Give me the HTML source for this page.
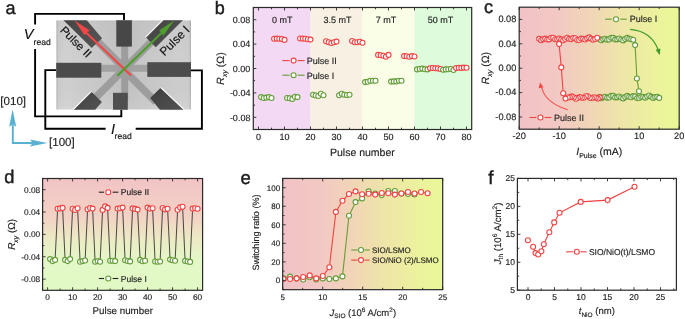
<!DOCTYPE html><html><head><meta charset="utf-8"><style>html,body{margin:0;padding:0;background:#fff;overflow:hidden}svg{display:block;will-change:transform}text{font-family:"Liberation Sans",sans-serif;text-rendering:geometricPrecision;stroke:#222;stroke-width:0.15px;paint-order:stroke}</style></head><body>
<svg width="685" height="319" viewBox="0 0 685 319">
<defs>
<linearGradient id="gc" x1="0" y1="0" x2="1" y2="0">
<stop offset="0" stop-color="#f1c2c6"/><stop offset="0.25" stop-color="#f3c9c3"/><stop offset="0.45" stop-color="#f1d6b6"/><stop offset="0.65" stop-color="#eee6a7"/><stop offset="0.85" stop-color="#ecf29d"/><stop offset="1" stop-color="#eaf898"/></linearGradient>
<linearGradient id="ge" x1="0" y1="0" x2="1" y2="0">
<stop offset="0" stop-color="#f1c2c6"/><stop offset="0.25" stop-color="#f3c9c3"/><stop offset="0.45" stop-color="#f1d6b6"/><stop offset="0.65" stop-color="#eee6a7"/><stop offset="0.85" stop-color="#ecf29d"/><stop offset="1" stop-color="#eaf898"/></linearGradient>
<linearGradient id="gd" x1="0" y1="0" x2="0" y2="1">
<stop offset="0" stop-color="#f2c3c6"/><stop offset="0.35" stop-color="#f2d3c4"/><stop offset="0.55" stop-color="#ecebc5"/><stop offset="0.75" stop-color="#e3f8c6"/><stop offset="1" stop-color="#e1f9c5"/></linearGradient>
<radialGradient id="gm" cx="0.5" cy="0.5" r="0.7">
<stop offset="0" stop-color="#b9b9b9"/><stop offset="0.6" stop-color="#c4c4c4"/><stop offset="1" stop-color="#dedede"/></radialGradient>
<linearGradient id="gmh" x1="0" y1="0" x2="1" y2="0"><stop offset="0" stop-color="#b4b4b4"/><stop offset="0.018" stop-color="#cdcdcd"/><stop offset="0.07" stop-color="#d2d2d2"/><stop offset="0.5" stop-color="#c4c4c4"/><stop offset="0.93" stop-color="#d0d0d0"/><stop offset="0.985" stop-color="#cecece"/><stop offset="1" stop-color="#b0b0b0"/></linearGradient>
<linearGradient id="gmv" x1="0" y1="0" x2="0" y2="1"><stop offset="0" stop-color="#000" stop-opacity="0.03"/><stop offset="0.5" stop-color="#000" stop-opacity="0"/><stop offset="1" stop-color="#fff" stop-opacity="0.08"/></linearGradient>
<linearGradient id="gp" x1="0" y1="0" x2="1" y2="1"><stop offset="0" stop-color="#3e3e3e"/><stop offset="1" stop-color="#565656"/></linearGradient>
<clipPath id="cm"><rect x="56.2" y="20.2" width="134.8" height="89.5"/></clipPath>
<clipPath id="cb"><rect x="253.3" y="7.5" width="218.4" height="122"/></clipPath>
<clipPath id="cc"><rect x="519.2" y="7.2" width="160" height="122"/></clipPath>
<clipPath id="ce"><rect x="282.7" y="178.5" width="160" height="111.6"/></clipPath>
</defs>
<text x="5.5" y="13.6" font-size="18" text-anchor="start" fill="#1e1e1e" style="stroke-width:0.45px">a</text>
<text x="214.8" y="13.8" font-size="18" text-anchor="start" fill="#1e1e1e" style="stroke-width:0.45px">b</text>
<text x="484.1" y="12.9" font-size="18.3" text-anchor="start" fill="#1e1e1e" style="stroke-width:0.45px">c</text>
<text x="4.2" y="182.6" font-size="18.3" text-anchor="start" fill="#1e1e1e" style="stroke-width:0.45px">d</text>
<text x="240.4" y="183.6" font-size="18.5" text-anchor="start" fill="#1e1e1e" style="stroke-width:0.45px">e</text>
<text x="488.2" y="183.8" font-size="18.8" text-anchor="start" fill="#1e1e1e" style="stroke-width:0.45px">f</text>
<path d="M35.1 24.4 V13.9 H124 V20.2" stroke="#000" stroke-width="1.9" fill="none"/>
<path d="M35.1 49.1 V116.4 H121.3 V109.7" stroke="#000" stroke-width="1.9" fill="none"/>
<path d="M56.2 70.1 H45.3 V128.8 H105.6" stroke="#000" stroke-width="1.9" fill="none"/>
<path d="M135.7 128.8 H201.9 V70.4 H191" stroke="#000" stroke-width="1.9" fill="none"/>
<g clip-path="url(#cm)">
<rect x="56.2" y="20.2" width="134.8" height="89.5" fill="url(#gmh)"/>
<rect x="56.2" y="20.2" width="134.8" height="89.5" fill="url(#gmv)"/>
<rect x="121.2" y="40" width="7" height="60" fill="#9d9d9d"/>
<rect x="95" y="64.8" width="58" height="7" fill="#a2a2a2"/>
<line x1="124.6" y1="68.6" x2="92.8" y2="36.8" stroke="#9d9d9d" stroke-width="7.6"/>
<line x1="124.6" y1="68.6" x2="155" y2="38.2" stroke="#9d9d9d" stroke-width="7.6"/>
<line x1="124.6" y1="68.6" x2="94" y2="99.2" stroke="#9d9d9d" stroke-width="7.6"/>
<line x1="120" y1="66.1" x2="156" y2="102.1" stroke="#9d9d9d" stroke-width="7.6"/>
<polygon points="50,7 75.4,7 102.1,38.2 91.7,48" fill="url(#gp)"/>
<polygon points="146.1,37.6 155.8,47.3 195.8,7.3 186.1,-2.4" fill="url(#gp)"/>
<line x1="145.6" y1="37.1" x2="185.6" y2="-2.9" stroke="#fafafa" stroke-width="1.1" opacity="0.9"/>
<polygon points="91.7,91.9 101.9,102.1 90.6,115 68.6,115" fill="url(#gp)"/>
<line x1="91.2" y1="91.4" x2="68.1" y2="114.5" stroke="#fafafa" stroke-width="1.1" opacity="0.9"/>
<polygon points="160.4,88 150.2,98 164.1,115 188.9,115" fill="url(#gp)"/>
<line x1="160.9" y1="87.5" x2="189.4" y2="114.5" stroke="#fafafa" stroke-width="1.1" opacity="0.9"/>
<rect x="116.3" y="18" width="15.6" height="28.6" fill="#474747"/>
<rect x="50" y="62.8" width="51.3" height="14.9" fill="#4b4b4b"/>
<rect x="147.3" y="62.2" width="50" height="14.7" fill="#4d4d4d"/>
<rect x="113" y="92.8" width="14.8" height="20" fill="#4f4f4f"/>
<line x1="131.1" y1="75.5" x2="86" y2="32.4" stroke="#f24646" stroke-width="2.1"/>
<polygon points="74.6,20.6 84.5,35.3 86.6,32.7 89.8,30.4" fill="#f24646"/>
<line x1="117.4" y1="75.7" x2="162" y2="32.5" stroke="#4d9e2a" stroke-width="2.1"/>
<polygon points="174.2,20.6 159.1,30.4 161.8,32.7 163.3,35.7" fill="#4d9e2a"/>
<text x="0" y="0" font-size="11.6" fill="#111" transform="translate(59.4,30.9) rotate(45)">Pulse II</text>
<text x="0" y="0" font-size="12" fill="#111" transform="translate(164.4,56.6) rotate(-45)">Pulse I</text>
</g>
<text x="23.7" y="38.9" font-size="14.5" font-style="italic" fill="#111">V</text>
<text x="33.6" y="44.6" font-size="8.6" fill="#111">read</text>
<text x="111" y="134.4" font-size="14.5" font-style="italic" fill="#111">I</text>
<text x="114.6" y="139.2" font-size="8.6" fill="#111">read</text>
<path d="M12.8 125 V143 H34" stroke="#5ab0d0" stroke-width="1.9" fill="none"/>
<polygon points="12.6,109.2 16.2,126.8 12.7,124.4 9.2,126.8" fill="#5ab0d0"/>
<polygon points="47.4,143 30,139.6 32.6,143 30,146.4" fill="#5ab0d0"/>
<text x="0.3" y="105" font-size="11.6" text-anchor="start" fill="#1e1e1e" >[010]</text>
<text x="49" y="146.3" font-size="11.6" text-anchor="start" fill="#1e1e1e" >[100]</text>
<rect x="253.3" y="7.5" width="57.2" height="122" fill="#f3d9f3"/>
<rect x="310.5" y="7.5" width="52" height="122" fill="#f8f0e2"/>
<rect x="362.5" y="7.5" width="52" height="122" fill="#fafee7"/>
<rect x="414.5" y="7.5" width="57.2" height="122" fill="#defcdc"/>
<text x="282.29" y="22.6" font-size="9" text-anchor="middle" fill="#1e1e1e" >0 mT</text>
<text x="337.54" y="22.6" font-size="9" text-anchor="middle" fill="#1e1e1e" >3.5 mT</text>
<text x="385.9" y="22.6" font-size="9" text-anchor="middle" fill="#1e1e1e" >7 mT</text>
<text x="440.5" y="22.6" font-size="9" text-anchor="middle" fill="#1e1e1e" >50 mT</text>
<g clip-path="url(#cb)">
<circle cx="261.1" cy="97.1" r="2.5" fill="#fff" stroke="#649d38" stroke-width="1.1"/>
<circle cx="263.7" cy="98" r="2.5" fill="#fff" stroke="#649d38" stroke-width="1.1"/>
<circle cx="266.3" cy="97.6" r="2.5" fill="#fff" stroke="#649d38" stroke-width="1.1"/>
<circle cx="268.9" cy="97.1" r="2.5" fill="#fff" stroke="#649d38" stroke-width="1.1"/>
<circle cx="271.5" cy="98" r="2.5" fill="#fff" stroke="#649d38" stroke-width="1.1"/>
<circle cx="274.1" cy="38.8" r="2.5" fill="#fff" stroke="#f14343" stroke-width="1.1"/>
<circle cx="276.7" cy="38.6" r="2.5" fill="#fff" stroke="#f14343" stroke-width="1.1"/>
<circle cx="279.3" cy="38.8" r="2.5" fill="#fff" stroke="#f14343" stroke-width="1.1"/>
<circle cx="281.9" cy="39" r="2.5" fill="#fff" stroke="#f14343" stroke-width="1.1"/>
<circle cx="284.5" cy="39.9" r="2.5" fill="#fff" stroke="#f14343" stroke-width="1.1"/>
<circle cx="287.1" cy="98" r="2.5" fill="#fff" stroke="#649d38" stroke-width="1.1"/>
<circle cx="289.7" cy="98.2" r="2.5" fill="#fff" stroke="#649d38" stroke-width="1.1"/>
<circle cx="292.3" cy="98.9" r="2.5" fill="#fff" stroke="#649d38" stroke-width="1.1"/>
<circle cx="294.9" cy="96.7" r="2.5" fill="#fff" stroke="#649d38" stroke-width="1.1"/>
<circle cx="297.5" cy="97.1" r="2.5" fill="#fff" stroke="#649d38" stroke-width="1.1"/>
<circle cx="300.1" cy="38.5" r="2.5" fill="#fff" stroke="#f14343" stroke-width="1.1"/>
<circle cx="302.7" cy="38.6" r="2.5" fill="#fff" stroke="#f14343" stroke-width="1.1"/>
<circle cx="305.3" cy="38.8" r="2.5" fill="#fff" stroke="#f14343" stroke-width="1.1"/>
<circle cx="307.9" cy="39.2" r="2.5" fill="#fff" stroke="#f14343" stroke-width="1.1"/>
<circle cx="310.5" cy="39.6" r="2.5" fill="#fff" stroke="#f14343" stroke-width="1.1"/>
<circle cx="313.1" cy="94.8" r="2.5" fill="#fff" stroke="#649d38" stroke-width="1.1"/>
<circle cx="315.7" cy="95.5" r="2.5" fill="#fff" stroke="#649d38" stroke-width="1.1"/>
<circle cx="318.3" cy="96" r="2.5" fill="#fff" stroke="#649d38" stroke-width="1.1"/>
<circle cx="320.9" cy="93.8" r="2.5" fill="#fff" stroke="#649d38" stroke-width="1.1"/>
<circle cx="323.5" cy="95.3" r="2.5" fill="#fff" stroke="#649d38" stroke-width="1.1"/>
<circle cx="326.1" cy="41.2" r="2.5" fill="#fff" stroke="#f14343" stroke-width="1.1"/>
<circle cx="328.7" cy="42.3" r="2.5" fill="#fff" stroke="#f14343" stroke-width="1.1"/>
<circle cx="331.3" cy="43" r="2.5" fill="#fff" stroke="#f14343" stroke-width="1.1"/>
<circle cx="333.9" cy="42.3" r="2.5" fill="#fff" stroke="#f14343" stroke-width="1.1"/>
<circle cx="336.5" cy="41.6" r="2.5" fill="#fff" stroke="#f14343" stroke-width="1.1"/>
<circle cx="339.1" cy="95.3" r="2.5" fill="#fff" stroke="#649d38" stroke-width="1.1"/>
<circle cx="341.7" cy="93.8" r="2.5" fill="#fff" stroke="#649d38" stroke-width="1.1"/>
<circle cx="344.3" cy="94.8" r="2.5" fill="#fff" stroke="#649d38" stroke-width="1.1"/>
<circle cx="346.9" cy="95" r="2.5" fill="#fff" stroke="#649d38" stroke-width="1.1"/>
<circle cx="349.5" cy="94.8" r="2.5" fill="#fff" stroke="#649d38" stroke-width="1.1"/>
<circle cx="352.1" cy="41" r="2.5" fill="#fff" stroke="#f14343" stroke-width="1.1"/>
<circle cx="354.7" cy="42.3" r="2.5" fill="#fff" stroke="#f14343" stroke-width="1.1"/>
<circle cx="357.3" cy="42.3" r="2.5" fill="#fff" stroke="#f14343" stroke-width="1.1"/>
<circle cx="359.9" cy="41.8" r="2.5" fill="#fff" stroke="#f14343" stroke-width="1.1"/>
<circle cx="362.5" cy="42.7" r="2.5" fill="#fff" stroke="#f14343" stroke-width="1.1"/>
<circle cx="365.1" cy="82.1" r="2.5" fill="#fff" stroke="#649d38" stroke-width="1.1"/>
<circle cx="367.7" cy="81.8" r="2.5" fill="#fff" stroke="#649d38" stroke-width="1.1"/>
<circle cx="370.3" cy="80.8" r="2.5" fill="#fff" stroke="#649d38" stroke-width="1.1"/>
<circle cx="372.9" cy="80.8" r="2.5" fill="#fff" stroke="#649d38" stroke-width="1.1"/>
<circle cx="375.5" cy="80.8" r="2.5" fill="#fff" stroke="#649d38" stroke-width="1.1"/>
<circle cx="378.1" cy="54.9" r="2.5" fill="#fff" stroke="#f14343" stroke-width="1.1"/>
<circle cx="380.7" cy="55.3" r="2.5" fill="#fff" stroke="#f14343" stroke-width="1.1"/>
<circle cx="383.3" cy="55.8" r="2.5" fill="#fff" stroke="#f14343" stroke-width="1.1"/>
<circle cx="385.9" cy="56.8" r="2.5" fill="#fff" stroke="#f14343" stroke-width="1.1"/>
<circle cx="388.5" cy="54.9" r="2.5" fill="#fff" stroke="#f14343" stroke-width="1.1"/>
<circle cx="391.1" cy="81.6" r="2.5" fill="#fff" stroke="#649d38" stroke-width="1.1"/>
<circle cx="393.7" cy="81.4" r="2.5" fill="#fff" stroke="#649d38" stroke-width="1.1"/>
<circle cx="396.3" cy="81.4" r="2.5" fill="#fff" stroke="#649d38" stroke-width="1.1"/>
<circle cx="398.9" cy="80.8" r="2.5" fill="#fff" stroke="#649d38" stroke-width="1.1"/>
<circle cx="401.5" cy="80.8" r="2.5" fill="#fff" stroke="#649d38" stroke-width="1.1"/>
<circle cx="404.1" cy="56.1" r="2.5" fill="#fff" stroke="#f14343" stroke-width="1.1"/>
<circle cx="406.7" cy="56.3" r="2.5" fill="#fff" stroke="#f14343" stroke-width="1.1"/>
<circle cx="409.3" cy="56.8" r="2.5" fill="#fff" stroke="#f14343" stroke-width="1.1"/>
<circle cx="411.9" cy="56.1" r="2.5" fill="#fff" stroke="#f14343" stroke-width="1.1"/>
<circle cx="414.5" cy="56.5" r="2.5" fill="#fff" stroke="#f14343" stroke-width="1.1"/>
<circle cx="417.1" cy="69.4" r="2.5" fill="#fff" stroke="#649d38" stroke-width="1.1"/>
<circle cx="419.7" cy="69" r="2.5" fill="#fff" stroke="#649d38" stroke-width="1.1"/>
<circle cx="422.3" cy="68.6" r="2.5" fill="#fff" stroke="#649d38" stroke-width="1.1"/>
<circle cx="424.9" cy="69.2" r="2.5" fill="#fff" stroke="#649d38" stroke-width="1.1"/>
<circle cx="427.5" cy="69.4" r="2.5" fill="#fff" stroke="#649d38" stroke-width="1.1"/>
<circle cx="430.1" cy="68.3" r="2.5" fill="#fff" stroke="#f14343" stroke-width="1.1"/>
<circle cx="432.7" cy="68" r="2.5" fill="#fff" stroke="#f14343" stroke-width="1.1"/>
<circle cx="435.3" cy="68.2" r="2.5" fill="#fff" stroke="#f14343" stroke-width="1.1"/>
<circle cx="437.9" cy="68.4" r="2.5" fill="#fff" stroke="#f14343" stroke-width="1.1"/>
<circle cx="440.5" cy="69" r="2.5" fill="#fff" stroke="#f14343" stroke-width="1.1"/>
<circle cx="443.1" cy="69.8" r="2.5" fill="#fff" stroke="#649d38" stroke-width="1.1"/>
<circle cx="445.7" cy="69.4" r="2.5" fill="#fff" stroke="#649d38" stroke-width="1.1"/>
<circle cx="448.3" cy="69.2" r="2.5" fill="#fff" stroke="#649d38" stroke-width="1.1"/>
<circle cx="450.9" cy="69" r="2.5" fill="#fff" stroke="#649d38" stroke-width="1.1"/>
<circle cx="453.5" cy="70" r="2.5" fill="#fff" stroke="#649d38" stroke-width="1.1"/>
<circle cx="456.1" cy="68" r="2.5" fill="#fff" stroke="#f14343" stroke-width="1.1"/>
<circle cx="458.7" cy="67.8" r="2.5" fill="#fff" stroke="#f14343" stroke-width="1.1"/>
<circle cx="461.3" cy="67.9" r="2.5" fill="#fff" stroke="#f14343" stroke-width="1.1"/>
<circle cx="463.9" cy="67.6" r="2.5" fill="#fff" stroke="#f14343" stroke-width="1.1"/>
<circle cx="466.5" cy="67.8" r="2.5" fill="#fff" stroke="#f14343" stroke-width="1.1"/>
</g>
<line x1="282.4" y1="60.6" x2="289.5" y2="60.6" stroke="#f14343" stroke-width="1.1"/>
<line x1="297.7" y1="60.6" x2="304.6" y2="60.6" stroke="#f14343" stroke-width="1.1"/>
<circle cx="293.6" cy="60.6" r="2.5" fill="#fff" stroke="#f14343" stroke-width="1.1"/>
<text x="306.8" y="63.9" font-size="9" text-anchor="start" fill="#1e1e1e" >Pulse II</text>
<line x1="282.4" y1="75.2" x2="289.5" y2="75.2" stroke="#649d38" stroke-width="1.1"/>
<line x1="297.7" y1="75.2" x2="304.6" y2="75.2" stroke="#649d38" stroke-width="1.1"/>
<circle cx="293.6" cy="75.2" r="2.5" fill="#fff" stroke="#649d38" stroke-width="1.1"/>
<text x="306.8" y="78.5" font-size="9" text-anchor="start" fill="#1e1e1e" >Pulse I</text>
<rect x="253.3" y="7.5" width="218.4" height="122" fill="none" stroke="#2a2a2a" stroke-width="1.2"/>
<line x1="258.5" y1="129.5" x2="258.5" y2="126.5" stroke="#2a2a2a" stroke-width="0.9"/>
<line x1="258.5" y1="7.5" x2="258.5" y2="10.5" stroke="#2a2a2a" stroke-width="0.9"/>
<line x1="284.5" y1="129.5" x2="284.5" y2="126.5" stroke="#2a2a2a" stroke-width="0.9"/>
<line x1="284.5" y1="7.5" x2="284.5" y2="10.5" stroke="#2a2a2a" stroke-width="0.9"/>
<line x1="310.5" y1="129.5" x2="310.5" y2="126.5" stroke="#2a2a2a" stroke-width="0.9"/>
<line x1="310.5" y1="7.5" x2="310.5" y2="10.5" stroke="#2a2a2a" stroke-width="0.9"/>
<line x1="336.5" y1="129.5" x2="336.5" y2="126.5" stroke="#2a2a2a" stroke-width="0.9"/>
<line x1="336.5" y1="7.5" x2="336.5" y2="10.5" stroke="#2a2a2a" stroke-width="0.9"/>
<line x1="362.5" y1="129.5" x2="362.5" y2="126.5" stroke="#2a2a2a" stroke-width="0.9"/>
<line x1="362.5" y1="7.5" x2="362.5" y2="10.5" stroke="#2a2a2a" stroke-width="0.9"/>
<line x1="388.5" y1="129.5" x2="388.5" y2="126.5" stroke="#2a2a2a" stroke-width="0.9"/>
<line x1="388.5" y1="7.5" x2="388.5" y2="10.5" stroke="#2a2a2a" stroke-width="0.9"/>
<line x1="414.5" y1="129.5" x2="414.5" y2="126.5" stroke="#2a2a2a" stroke-width="0.9"/>
<line x1="414.5" y1="7.5" x2="414.5" y2="10.5" stroke="#2a2a2a" stroke-width="0.9"/>
<line x1="440.5" y1="129.5" x2="440.5" y2="126.5" stroke="#2a2a2a" stroke-width="0.9"/>
<line x1="440.5" y1="7.5" x2="440.5" y2="10.5" stroke="#2a2a2a" stroke-width="0.9"/>
<line x1="466.5" y1="129.5" x2="466.5" y2="126.5" stroke="#2a2a2a" stroke-width="0.9"/>
<line x1="466.5" y1="7.5" x2="466.5" y2="10.5" stroke="#2a2a2a" stroke-width="0.9"/>
<line x1="271.5" y1="129.5" x2="271.5" y2="127.7" stroke="#2a2a2a" stroke-width="0.9"/>
<line x1="271.5" y1="7.5" x2="271.5" y2="9.3" stroke="#2a2a2a" stroke-width="0.9"/>
<line x1="297.5" y1="129.5" x2="297.5" y2="127.7" stroke="#2a2a2a" stroke-width="0.9"/>
<line x1="297.5" y1="7.5" x2="297.5" y2="9.3" stroke="#2a2a2a" stroke-width="0.9"/>
<line x1="323.5" y1="129.5" x2="323.5" y2="127.7" stroke="#2a2a2a" stroke-width="0.9"/>
<line x1="323.5" y1="7.5" x2="323.5" y2="9.3" stroke="#2a2a2a" stroke-width="0.9"/>
<line x1="349.5" y1="129.5" x2="349.5" y2="127.7" stroke="#2a2a2a" stroke-width="0.9"/>
<line x1="349.5" y1="7.5" x2="349.5" y2="9.3" stroke="#2a2a2a" stroke-width="0.9"/>
<line x1="375.5" y1="129.5" x2="375.5" y2="127.7" stroke="#2a2a2a" stroke-width="0.9"/>
<line x1="375.5" y1="7.5" x2="375.5" y2="9.3" stroke="#2a2a2a" stroke-width="0.9"/>
<line x1="401.5" y1="129.5" x2="401.5" y2="127.7" stroke="#2a2a2a" stroke-width="0.9"/>
<line x1="401.5" y1="7.5" x2="401.5" y2="9.3" stroke="#2a2a2a" stroke-width="0.9"/>
<line x1="427.5" y1="129.5" x2="427.5" y2="127.7" stroke="#2a2a2a" stroke-width="0.9"/>
<line x1="427.5" y1="7.5" x2="427.5" y2="9.3" stroke="#2a2a2a" stroke-width="0.9"/>
<line x1="453.5" y1="129.5" x2="453.5" y2="127.7" stroke="#2a2a2a" stroke-width="0.9"/>
<line x1="453.5" y1="7.5" x2="453.5" y2="9.3" stroke="#2a2a2a" stroke-width="0.9"/>
<line x1="253.3" y1="117.3" x2="256.3" y2="117.3" stroke="#2a2a2a" stroke-width="0.9"/>
<line x1="253.3" y1="92.9" x2="256.3" y2="92.9" stroke="#2a2a2a" stroke-width="0.9"/>
<line x1="253.3" y1="68.5" x2="256.3" y2="68.5" stroke="#2a2a2a" stroke-width="0.9"/>
<line x1="253.3" y1="44.1" x2="256.3" y2="44.1" stroke="#2a2a2a" stroke-width="0.9"/>
<line x1="253.3" y1="19.7" x2="256.3" y2="19.7" stroke="#2a2a2a" stroke-width="0.9"/>
<line x1="253.3" y1="105.1" x2="255.1" y2="105.1" stroke="#2a2a2a" stroke-width="0.9"/>
<line x1="253.3" y1="80.7" x2="255.1" y2="80.7" stroke="#2a2a2a" stroke-width="0.9"/>
<line x1="253.3" y1="56.3" x2="255.1" y2="56.3" stroke="#2a2a2a" stroke-width="0.9"/>
<line x1="253.3" y1="31.9" x2="255.1" y2="31.9" stroke="#2a2a2a" stroke-width="0.9"/>
<text x="258.5" y="139.9" font-size="9" text-anchor="middle" fill="#1e1e1e" >0</text>
<text x="284.5" y="139.9" font-size="9" text-anchor="middle" fill="#1e1e1e" >10</text>
<text x="310.5" y="139.9" font-size="9" text-anchor="middle" fill="#1e1e1e" >20</text>
<text x="336.5" y="139.9" font-size="9" text-anchor="middle" fill="#1e1e1e" >30</text>
<text x="362.5" y="139.9" font-size="9" text-anchor="middle" fill="#1e1e1e" >40</text>
<text x="388.5" y="139.9" font-size="9" text-anchor="middle" fill="#1e1e1e" >50</text>
<text x="414.5" y="139.9" font-size="9" text-anchor="middle" fill="#1e1e1e" >60</text>
<text x="440.5" y="139.9" font-size="9" text-anchor="middle" fill="#1e1e1e" >70</text>
<text x="466.5" y="139.9" font-size="9" text-anchor="middle" fill="#1e1e1e" >80</text>
<text x="250.4" y="120.5" font-size="9" text-anchor="end" fill="#1e1e1e" >-0.08</text>
<text x="250.4" y="96.1" font-size="9" text-anchor="end" fill="#1e1e1e" >-0.04</text>
<text x="250.4" y="71.7" font-size="9" text-anchor="end" fill="#1e1e1e" >0.00</text>
<text x="250.4" y="47.3" font-size="9" text-anchor="end" fill="#1e1e1e" >0.04</text>
<text x="250.4" y="22.9" font-size="9" text-anchor="end" fill="#1e1e1e" >0.08</text>
<text x="362.4" y="156.1" font-size="10.5" text-anchor="middle" fill="#1e1e1e" >Pulse number</text>
<text transform="translate(224.1,68.5) rotate(-90)" font-size="10.5" text-anchor="middle" fill="#1e1e1e"><tspan font-style="italic">R</tspan><tspan font-size="7" font-style="italic" dy="2.5">xy</tspan><tspan dy="-2.5"> (&#937;)</tspan></text>
<rect x="519.2" y="7.2" width="160" height="122" fill="url(#gc)"/>
<path d="M567.6 109.8 Q544 102 541.6 86.5" stroke="#f24a4a" stroke-width="1.1" fill="none"/>
<polygon points="540,82.6 538.6,88.2 543.6,87.2" fill="#f24a4a"/>
<path d="M630.1 29.4 Q651 31 658.3 50" stroke="#3f9a2a" stroke-width="1.1" fill="none"/>
<polygon points="659.8,55.2 655.6,49.8 660.4,48.6" fill="#3f9a2a"/>
<g clip-path="url(#cc)">
<polyline points="566,98.6 563.2,93.2 561.3,67.4 559.1,44" fill="none" stroke="#f14343" stroke-width="1.1"/>
<polyline points="633.2,39.8 635.1,45.1 636.9,78.5 639,91.3" fill="none" stroke="#649d38" stroke-width="1.1"/>
<circle cx="599.2" cy="97" r="2.5" fill="#fff" stroke="#649d38" stroke-width="1.1"/>
<circle cx="601.2" cy="98.28" r="2.5" fill="#fff" stroke="#649d38" stroke-width="1.1"/>
<circle cx="603.2" cy="97.36" r="2.5" fill="#fff" stroke="#649d38" stroke-width="1.1"/>
<circle cx="605.2" cy="96.68" r="2.5" fill="#fff" stroke="#649d38" stroke-width="1.1"/>
<circle cx="607.2" cy="97.65" r="2.5" fill="#fff" stroke="#649d38" stroke-width="1.1"/>
<circle cx="609.2" cy="97.51" r="2.5" fill="#fff" stroke="#649d38" stroke-width="1.1"/>
<circle cx="611.2" cy="95.85" r="2.5" fill="#fff" stroke="#649d38" stroke-width="1.1"/>
<circle cx="613.2" cy="95.85" r="2.5" fill="#fff" stroke="#649d38" stroke-width="1.1"/>
<circle cx="615.2" cy="97.39" r="2.5" fill="#fff" stroke="#649d38" stroke-width="1.1"/>
<circle cx="617.2" cy="97.37" r="2.5" fill="#fff" stroke="#649d38" stroke-width="1.1"/>
<circle cx="619.2" cy="96.53" r="2.5" fill="#fff" stroke="#649d38" stroke-width="1.1"/>
<circle cx="621.2" cy="97.46" r="2.5" fill="#fff" stroke="#649d38" stroke-width="1.1"/>
<circle cx="623.2" cy="98.41" r="2.5" fill="#fff" stroke="#649d38" stroke-width="1.1"/>
<circle cx="625.2" cy="97.09" r="2.5" fill="#fff" stroke="#649d38" stroke-width="1.1"/>
<circle cx="627.2" cy="95.91" r="2.5" fill="#fff" stroke="#649d38" stroke-width="1.1"/>
<circle cx="629.2" cy="96.8" r="2.5" fill="#fff" stroke="#649d38" stroke-width="1.1"/>
<circle cx="631.2" cy="97.2" r="2.5" fill="#fff" stroke="#649d38" stroke-width="1.1"/>
<circle cx="633.2" cy="96.1" r="2.5" fill="#fff" stroke="#649d38" stroke-width="1.1"/>
<circle cx="635.2" cy="96.36" r="2.5" fill="#fff" stroke="#649d38" stroke-width="1.1"/>
<circle cx="637.2" cy="98.1" r="2.5" fill="#fff" stroke="#649d38" stroke-width="1.1"/>
<circle cx="639.2" cy="98.07" r="2.5" fill="#fff" stroke="#649d38" stroke-width="1.1"/>
<circle cx="641.2" cy="96.69" r="2.5" fill="#fff" stroke="#649d38" stroke-width="1.1"/>
<circle cx="643.2" cy="96.92" r="2.5" fill="#fff" stroke="#649d38" stroke-width="1.1"/>
<circle cx="645.2" cy="97.66" r="2.5" fill="#fff" stroke="#649d38" stroke-width="1.1"/>
<circle cx="647.2" cy="96.5" r="2.5" fill="#fff" stroke="#649d38" stroke-width="1.1"/>
<circle cx="649.2" cy="95.52" r="2.5" fill="#fff" stroke="#649d38" stroke-width="1.1"/>
<circle cx="651.2" cy="96.83" r="2.5" fill="#fff" stroke="#649d38" stroke-width="1.1"/>
<circle cx="653.2" cy="97.88" r="2.5" fill="#fff" stroke="#649d38" stroke-width="1.1"/>
<circle cx="655.2" cy="97" r="2.5" fill="#fff" stroke="#649d38" stroke-width="1.1"/>
<circle cx="657.2" cy="96.86" r="2.5" fill="#fff" stroke="#649d38" stroke-width="1.1"/>
<circle cx="659.2" cy="97.9" r="2.5" fill="#fff" stroke="#649d38" stroke-width="1.1"/>
<circle cx="639" cy="91.3" r="2.5" fill="#fff" stroke="#649d38" stroke-width="1.1"/>
<circle cx="636.9" cy="78.5" r="2.5" fill="#fff" stroke="#649d38" stroke-width="1.1"/>
<circle cx="599.2" cy="39" r="2.5" fill="#fff" stroke="#649d38" stroke-width="1.1"/>
<circle cx="601.2" cy="40.28" r="2.5" fill="#fff" stroke="#649d38" stroke-width="1.1"/>
<circle cx="603.2" cy="39.36" r="2.5" fill="#fff" stroke="#649d38" stroke-width="1.1"/>
<circle cx="605.2" cy="38.68" r="2.5" fill="#fff" stroke="#649d38" stroke-width="1.1"/>
<circle cx="607.2" cy="39.65" r="2.5" fill="#fff" stroke="#649d38" stroke-width="1.1"/>
<circle cx="609.2" cy="39.51" r="2.5" fill="#fff" stroke="#649d38" stroke-width="1.1"/>
<circle cx="611.2" cy="37.85" r="2.5" fill="#fff" stroke="#649d38" stroke-width="1.1"/>
<circle cx="613.2" cy="37.85" r="2.5" fill="#fff" stroke="#649d38" stroke-width="1.1"/>
<circle cx="615.2" cy="39.39" r="2.5" fill="#fff" stroke="#649d38" stroke-width="1.1"/>
<circle cx="617.2" cy="39.37" r="2.5" fill="#fff" stroke="#649d38" stroke-width="1.1"/>
<circle cx="619.2" cy="38.53" r="2.5" fill="#fff" stroke="#649d38" stroke-width="1.1"/>
<circle cx="621.2" cy="39.46" r="2.5" fill="#fff" stroke="#649d38" stroke-width="1.1"/>
<circle cx="623.2" cy="40.41" r="2.5" fill="#fff" stroke="#649d38" stroke-width="1.1"/>
<circle cx="625.2" cy="39.09" r="2.5" fill="#fff" stroke="#649d38" stroke-width="1.1"/>
<circle cx="627.2" cy="37.91" r="2.5" fill="#fff" stroke="#649d38" stroke-width="1.1"/>
<circle cx="629.2" cy="38.8" r="2.5" fill="#fff" stroke="#649d38" stroke-width="1.1"/>
<circle cx="631.2" cy="39.2" r="2.5" fill="#fff" stroke="#649d38" stroke-width="1.1"/>
<circle cx="633.2" cy="39.8" r="2.5" fill="#fff" stroke="#649d38" stroke-width="1.1"/>
<circle cx="635.1" cy="45.1" r="2.5" fill="#fff" stroke="#649d38" stroke-width="1.1"/>
<circle cx="599.8" cy="97.4" r="2.5" fill="#fff" stroke="#f14343" stroke-width="1.1"/>
<circle cx="597.8" cy="98.58" r="2.5" fill="#fff" stroke="#f14343" stroke-width="1.1"/>
<circle cx="595.8" cy="97.79" r="2.5" fill="#fff" stroke="#f14343" stroke-width="1.1"/>
<circle cx="593.8" cy="97.18" r="2.5" fill="#fff" stroke="#f14343" stroke-width="1.1"/>
<circle cx="591.8" cy="98" r="2.5" fill="#fff" stroke="#f14343" stroke-width="1.1"/>
<circle cx="589.8" cy="97.83" r="2.5" fill="#fff" stroke="#f14343" stroke-width="1.1"/>
<circle cx="587.8" cy="96.32" r="2.5" fill="#fff" stroke="#f14343" stroke-width="1.1"/>
<circle cx="585.8" cy="96.32" r="2.5" fill="#fff" stroke="#f14343" stroke-width="1.1"/>
<circle cx="583.8" cy="97.71" r="2.5" fill="#fff" stroke="#f14343" stroke-width="1.1"/>
<circle cx="581.8" cy="97.73" r="2.5" fill="#fff" stroke="#f14343" stroke-width="1.1"/>
<circle cx="579.8" cy="97.03" r="2.5" fill="#fff" stroke="#f14343" stroke-width="1.1"/>
<circle cx="577.8" cy="97.87" r="2.5" fill="#fff" stroke="#f14343" stroke-width="1.1"/>
<circle cx="575.8" cy="98.71" r="2.5" fill="#fff" stroke="#f14343" stroke-width="1.1"/>
<circle cx="573.8" cy="97.5" r="2.5" fill="#fff" stroke="#f14343" stroke-width="1.1"/>
<circle cx="571.8" cy="96.4" r="2.5" fill="#fff" stroke="#f14343" stroke-width="1.1"/>
<circle cx="569.8" cy="97.16" r="2.5" fill="#fff" stroke="#f14343" stroke-width="1.1"/>
<circle cx="567.8" cy="97.52" r="2.5" fill="#fff" stroke="#f14343" stroke-width="1.1"/>
<circle cx="565.5" cy="98.6" r="2.5" fill="#fff" stroke="#f14343" stroke-width="1.1"/>
<circle cx="563.2" cy="93.2" r="2.5" fill="#fff" stroke="#f14343" stroke-width="1.1"/>
<circle cx="561.3" cy="67.4" r="2.5" fill="#fff" stroke="#f14343" stroke-width="1.1"/>
<circle cx="559.1" cy="44" r="2.5" fill="#fff" stroke="#f14343" stroke-width="1.1"/>
<circle cx="539.2" cy="38.9" r="2.5" fill="#fff" stroke="#f14343" stroke-width="1.1"/>
<circle cx="541.2" cy="40.18" r="2.5" fill="#fff" stroke="#f14343" stroke-width="1.1"/>
<circle cx="543.2" cy="39.26" r="2.5" fill="#fff" stroke="#f14343" stroke-width="1.1"/>
<circle cx="545.2" cy="38.58" r="2.5" fill="#fff" stroke="#f14343" stroke-width="1.1"/>
<circle cx="547.2" cy="39.55" r="2.5" fill="#fff" stroke="#f14343" stroke-width="1.1"/>
<circle cx="549.2" cy="39.41" r="2.5" fill="#fff" stroke="#f14343" stroke-width="1.1"/>
<circle cx="551.2" cy="37.75" r="2.5" fill="#fff" stroke="#f14343" stroke-width="1.1"/>
<circle cx="553.2" cy="37.75" r="2.5" fill="#fff" stroke="#f14343" stroke-width="1.1"/>
<circle cx="555.2" cy="39.29" r="2.5" fill="#fff" stroke="#f14343" stroke-width="1.1"/>
<circle cx="557.2" cy="39.27" r="2.5" fill="#fff" stroke="#f14343" stroke-width="1.1"/>
<circle cx="559.2" cy="38.43" r="2.5" fill="#fff" stroke="#f14343" stroke-width="1.1"/>
<circle cx="561.2" cy="39.36" r="2.5" fill="#fff" stroke="#f14343" stroke-width="1.1"/>
<circle cx="563.2" cy="40.31" r="2.5" fill="#fff" stroke="#f14343" stroke-width="1.1"/>
<circle cx="565.2" cy="38.99" r="2.5" fill="#fff" stroke="#f14343" stroke-width="1.1"/>
<circle cx="567.2" cy="37.81" r="2.5" fill="#fff" stroke="#f14343" stroke-width="1.1"/>
<circle cx="569.2" cy="38.7" r="2.5" fill="#fff" stroke="#f14343" stroke-width="1.1"/>
<circle cx="571.2" cy="39.1" r="2.5" fill="#fff" stroke="#f14343" stroke-width="1.1"/>
<circle cx="573.2" cy="38" r="2.5" fill="#fff" stroke="#f14343" stroke-width="1.1"/>
<circle cx="575.2" cy="38.26" r="2.5" fill="#fff" stroke="#f14343" stroke-width="1.1"/>
<circle cx="577.2" cy="40" r="2.5" fill="#fff" stroke="#f14343" stroke-width="1.1"/>
<circle cx="579.2" cy="39.97" r="2.5" fill="#fff" stroke="#f14343" stroke-width="1.1"/>
<circle cx="581.2" cy="38.59" r="2.5" fill="#fff" stroke="#f14343" stroke-width="1.1"/>
<circle cx="583.2" cy="38.82" r="2.5" fill="#fff" stroke="#f14343" stroke-width="1.1"/>
<circle cx="585.2" cy="39.56" r="2.5" fill="#fff" stroke="#f14343" stroke-width="1.1"/>
<circle cx="587.2" cy="38.4" r="2.5" fill="#fff" stroke="#f14343" stroke-width="1.1"/>
<circle cx="589.2" cy="37.42" r="2.5" fill="#fff" stroke="#f14343" stroke-width="1.1"/>
<circle cx="591.2" cy="38.73" r="2.5" fill="#fff" stroke="#f14343" stroke-width="1.1"/>
<circle cx="593.2" cy="39.78" r="2.5" fill="#fff" stroke="#f14343" stroke-width="1.1"/>
<circle cx="595.2" cy="38.9" r="2.5" fill="#fff" stroke="#f14343" stroke-width="1.1"/>
<circle cx="597.3" cy="37.8" r="2.5" fill="#fff" stroke="#f14343" stroke-width="1.1"/>
</g>
<line x1="605.1" y1="19.2" x2="611.9" y2="19.2" stroke="#649d38" stroke-width="1.1"/>
<line x1="620.1" y1="19.2" x2="626.8" y2="19.2" stroke="#649d38" stroke-width="1.1"/>
<circle cx="616" cy="19.2" r="2.5" fill="#fff" stroke="#649d38" stroke-width="1.1"/>
<text x="629.8" y="22.4" font-size="9" text-anchor="start" fill="#1e1e1e" >Pulse I</text>
<line x1="529.5" y1="117.5" x2="536.3" y2="117.5" stroke="#f14343" stroke-width="1.1"/>
<line x1="544.5" y1="117.5" x2="551.5" y2="117.5" stroke="#f14343" stroke-width="1.1"/>
<circle cx="540.4" cy="117.5" r="2.5" fill="#fff" stroke="#f14343" stroke-width="1.1"/>
<text x="554" y="120.8" font-size="9" text-anchor="start" fill="#1e1e1e" >Pulse II</text>
<rect x="519.2" y="7.2" width="160" height="122" fill="none" stroke="#2a2a2a" stroke-width="1.2"/>
<line x1="519.2" y1="129.2" x2="519.2" y2="126.2" stroke="#2a2a2a" stroke-width="0.9"/>
<line x1="519.2" y1="7.2" x2="519.2" y2="10.2" stroke="#2a2a2a" stroke-width="0.9"/>
<line x1="559.2" y1="129.2" x2="559.2" y2="126.2" stroke="#2a2a2a" stroke-width="0.9"/>
<line x1="559.2" y1="7.2" x2="559.2" y2="10.2" stroke="#2a2a2a" stroke-width="0.9"/>
<line x1="599.2" y1="129.2" x2="599.2" y2="126.2" stroke="#2a2a2a" stroke-width="0.9"/>
<line x1="599.2" y1="7.2" x2="599.2" y2="10.2" stroke="#2a2a2a" stroke-width="0.9"/>
<line x1="639.2" y1="129.2" x2="639.2" y2="126.2" stroke="#2a2a2a" stroke-width="0.9"/>
<line x1="639.2" y1="7.2" x2="639.2" y2="10.2" stroke="#2a2a2a" stroke-width="0.9"/>
<line x1="679.2" y1="129.2" x2="679.2" y2="126.2" stroke="#2a2a2a" stroke-width="0.9"/>
<line x1="679.2" y1="7.2" x2="679.2" y2="10.2" stroke="#2a2a2a" stroke-width="0.9"/>
<line x1="539.2" y1="129.2" x2="539.2" y2="127.4" stroke="#2a2a2a" stroke-width="0.9"/>
<line x1="539.2" y1="7.2" x2="539.2" y2="9" stroke="#2a2a2a" stroke-width="0.9"/>
<line x1="579.2" y1="129.2" x2="579.2" y2="127.4" stroke="#2a2a2a" stroke-width="0.9"/>
<line x1="579.2" y1="7.2" x2="579.2" y2="9" stroke="#2a2a2a" stroke-width="0.9"/>
<line x1="619.2" y1="129.2" x2="619.2" y2="127.4" stroke="#2a2a2a" stroke-width="0.9"/>
<line x1="619.2" y1="7.2" x2="619.2" y2="9" stroke="#2a2a2a" stroke-width="0.9"/>
<line x1="659.2" y1="129.2" x2="659.2" y2="127.4" stroke="#2a2a2a" stroke-width="0.9"/>
<line x1="659.2" y1="7.2" x2="659.2" y2="9" stroke="#2a2a2a" stroke-width="0.9"/>
<line x1="519.2" y1="117" x2="522.2" y2="117" stroke="#2a2a2a" stroke-width="0.9"/>
<line x1="519.2" y1="92.6" x2="522.2" y2="92.6" stroke="#2a2a2a" stroke-width="0.9"/>
<line x1="519.2" y1="68.2" x2="522.2" y2="68.2" stroke="#2a2a2a" stroke-width="0.9"/>
<line x1="519.2" y1="43.8" x2="522.2" y2="43.8" stroke="#2a2a2a" stroke-width="0.9"/>
<line x1="519.2" y1="19.4" x2="522.2" y2="19.4" stroke="#2a2a2a" stroke-width="0.9"/>
<line x1="519.2" y1="104.8" x2="521" y2="104.8" stroke="#2a2a2a" stroke-width="0.9"/>
<line x1="519.2" y1="80.4" x2="521" y2="80.4" stroke="#2a2a2a" stroke-width="0.9"/>
<line x1="519.2" y1="56" x2="521" y2="56" stroke="#2a2a2a" stroke-width="0.9"/>
<line x1="519.2" y1="31.6" x2="521" y2="31.6" stroke="#2a2a2a" stroke-width="0.9"/>
<text x="519.2" y="138.7" font-size="9.2" text-anchor="middle" fill="#1e1e1e" >-20</text>
<text x="559.2" y="138.7" font-size="9.2" text-anchor="middle" fill="#1e1e1e" >-10</text>
<text x="599.2" y="138.7" font-size="9.2" text-anchor="middle" fill="#1e1e1e" >0</text>
<text x="639.2" y="138.7" font-size="9.2" text-anchor="middle" fill="#1e1e1e" >10</text>
<text x="679.2" y="138.7" font-size="9.2" text-anchor="middle" fill="#1e1e1e" >20</text>
<text x="516.3" y="119.8" font-size="9.2" text-anchor="end" fill="#1e1e1e" >-0.08</text>
<text x="516.3" y="95.4" font-size="9.2" text-anchor="end" fill="#1e1e1e" >-0.04</text>
<text x="516.3" y="71" font-size="9.2" text-anchor="end" fill="#1e1e1e" >0.00</text>
<text x="516.3" y="46.6" font-size="9.2" text-anchor="end" fill="#1e1e1e" >0.04</text>
<text x="516.3" y="22.2" font-size="9.2" text-anchor="end" fill="#1e1e1e" >0.08</text>
<text x="599.3" y="154.9" font-size="10.5" text-anchor="middle" fill="#1e1e1e"><tspan font-style="italic">I</tspan><tspan font-size="7" dy="2.6">Pulse</tspan><tspan dy="-2.6"> (mA)</tspan></text>
<text transform="translate(489.1,68.2) rotate(-90)" font-size="10.5" text-anchor="middle" fill="#1e1e1e"><tspan font-style="italic">R</tspan><tspan font-size="7" font-style="italic" dy="2.5">xy</tspan><tspan dy="-2.5"> (&#937;)</tspan></text>
<rect x="42.6" y="178.5" width="160" height="111.8" fill="url(#gd)"/>
<polyline points="50.1,259.1 52.6,261.1 55.1,259.9 57.6,208.8 60.1,208.4 62.6,207.9 65.1,259.9 67.6,261.1 70.1,259.1 72.6,208.8 75.1,209.9 77.6,208.2 80.1,261.7 82.6,261.1 85.1,260.5 87.6,209.2 90.1,208 92.6,208.6 95.1,261.7 97.6,261.1 100.1,261.7 102.6,209.9 105.1,206.4 107.6,207.9 110.1,260.7 112.6,260.7 115.1,261.1 117.6,208.6 120.1,208.2 122.6,207.6 125.1,260.2 127.6,261 130.1,261.4 132.6,208.4 135.1,208.9 137.6,209.6 140.1,259.9 142.6,261.2 145.1,260.8 147.6,207.6 150.1,208.6 152.6,208.2 155.1,261.5 157.6,261.8 160.1,261.5 162.6,208 165.1,209.4 167.6,208.8 170.1,259.6 172.6,260.2 175.1,260.8 177.6,209.8 180.1,207.4 182.6,206.8 185.1,260.9 187.6,261.5 190.1,261.9 192.6,208.6 195.1,208.2 197.6,208.8" fill="none" stroke="#2a2a2a" stroke-width="0.85"/>
<circle cx="50.1" cy="259.1" r="2.5" fill="#fff" stroke="#649d38" stroke-width="1.1"/>
<circle cx="52.6" cy="261.1" r="2.5" fill="#fff" stroke="#649d38" stroke-width="1.1"/>
<circle cx="55.1" cy="259.9" r="2.5" fill="#fff" stroke="#649d38" stroke-width="1.1"/>
<circle cx="57.6" cy="208.8" r="2.5" fill="#fff" stroke="#f14343" stroke-width="1.1"/>
<circle cx="60.1" cy="208.4" r="2.5" fill="#fff" stroke="#f14343" stroke-width="1.1"/>
<circle cx="62.6" cy="207.9" r="2.5" fill="#fff" stroke="#f14343" stroke-width="1.1"/>
<circle cx="65.1" cy="259.9" r="2.5" fill="#fff" stroke="#649d38" stroke-width="1.1"/>
<circle cx="67.6" cy="261.1" r="2.5" fill="#fff" stroke="#649d38" stroke-width="1.1"/>
<circle cx="70.1" cy="259.1" r="2.5" fill="#fff" stroke="#649d38" stroke-width="1.1"/>
<circle cx="72.6" cy="208.8" r="2.5" fill="#fff" stroke="#f14343" stroke-width="1.1"/>
<circle cx="75.1" cy="209.9" r="2.5" fill="#fff" stroke="#f14343" stroke-width="1.1"/>
<circle cx="77.6" cy="208.2" r="2.5" fill="#fff" stroke="#f14343" stroke-width="1.1"/>
<circle cx="80.1" cy="261.7" r="2.5" fill="#fff" stroke="#649d38" stroke-width="1.1"/>
<circle cx="82.6" cy="261.1" r="2.5" fill="#fff" stroke="#649d38" stroke-width="1.1"/>
<circle cx="85.1" cy="260.5" r="2.5" fill="#fff" stroke="#649d38" stroke-width="1.1"/>
<circle cx="87.6" cy="209.2" r="2.5" fill="#fff" stroke="#f14343" stroke-width="1.1"/>
<circle cx="90.1" cy="208" r="2.5" fill="#fff" stroke="#f14343" stroke-width="1.1"/>
<circle cx="92.6" cy="208.6" r="2.5" fill="#fff" stroke="#f14343" stroke-width="1.1"/>
<circle cx="95.1" cy="261.7" r="2.5" fill="#fff" stroke="#649d38" stroke-width="1.1"/>
<circle cx="97.6" cy="261.1" r="2.5" fill="#fff" stroke="#649d38" stroke-width="1.1"/>
<circle cx="100.1" cy="261.7" r="2.5" fill="#fff" stroke="#649d38" stroke-width="1.1"/>
<circle cx="102.6" cy="209.9" r="2.5" fill="#fff" stroke="#f14343" stroke-width="1.1"/>
<circle cx="105.1" cy="206.4" r="2.5" fill="#fff" stroke="#f14343" stroke-width="1.1"/>
<circle cx="107.6" cy="207.9" r="2.5" fill="#fff" stroke="#f14343" stroke-width="1.1"/>
<circle cx="110.1" cy="260.7" r="2.5" fill="#fff" stroke="#649d38" stroke-width="1.1"/>
<circle cx="112.6" cy="260.7" r="2.5" fill="#fff" stroke="#649d38" stroke-width="1.1"/>
<circle cx="115.1" cy="261.1" r="2.5" fill="#fff" stroke="#649d38" stroke-width="1.1"/>
<circle cx="117.6" cy="208.6" r="2.5" fill="#fff" stroke="#f14343" stroke-width="1.1"/>
<circle cx="120.1" cy="208.2" r="2.5" fill="#fff" stroke="#f14343" stroke-width="1.1"/>
<circle cx="122.6" cy="207.6" r="2.5" fill="#fff" stroke="#f14343" stroke-width="1.1"/>
<circle cx="125.1" cy="260.2" r="2.5" fill="#fff" stroke="#649d38" stroke-width="1.1"/>
<circle cx="127.6" cy="261" r="2.5" fill="#fff" stroke="#649d38" stroke-width="1.1"/>
<circle cx="130.1" cy="261.4" r="2.5" fill="#fff" stroke="#649d38" stroke-width="1.1"/>
<circle cx="132.6" cy="208.4" r="2.5" fill="#fff" stroke="#f14343" stroke-width="1.1"/>
<circle cx="135.1" cy="208.9" r="2.5" fill="#fff" stroke="#f14343" stroke-width="1.1"/>
<circle cx="137.6" cy="209.6" r="2.5" fill="#fff" stroke="#f14343" stroke-width="1.1"/>
<circle cx="140.1" cy="259.9" r="2.5" fill="#fff" stroke="#649d38" stroke-width="1.1"/>
<circle cx="142.6" cy="261.2" r="2.5" fill="#fff" stroke="#649d38" stroke-width="1.1"/>
<circle cx="145.1" cy="260.8" r="2.5" fill="#fff" stroke="#649d38" stroke-width="1.1"/>
<circle cx="147.6" cy="207.6" r="2.5" fill="#fff" stroke="#f14343" stroke-width="1.1"/>
<circle cx="150.1" cy="208.6" r="2.5" fill="#fff" stroke="#f14343" stroke-width="1.1"/>
<circle cx="152.6" cy="208.2" r="2.5" fill="#fff" stroke="#f14343" stroke-width="1.1"/>
<circle cx="155.1" cy="261.5" r="2.5" fill="#fff" stroke="#649d38" stroke-width="1.1"/>
<circle cx="157.6" cy="261.8" r="2.5" fill="#fff" stroke="#649d38" stroke-width="1.1"/>
<circle cx="160.1" cy="261.5" r="2.5" fill="#fff" stroke="#649d38" stroke-width="1.1"/>
<circle cx="162.6" cy="208" r="2.5" fill="#fff" stroke="#f14343" stroke-width="1.1"/>
<circle cx="165.1" cy="209.4" r="2.5" fill="#fff" stroke="#f14343" stroke-width="1.1"/>
<circle cx="167.6" cy="208.8" r="2.5" fill="#fff" stroke="#f14343" stroke-width="1.1"/>
<circle cx="170.1" cy="259.6" r="2.5" fill="#fff" stroke="#649d38" stroke-width="1.1"/>
<circle cx="172.6" cy="260.2" r="2.5" fill="#fff" stroke="#649d38" stroke-width="1.1"/>
<circle cx="175.1" cy="260.8" r="2.5" fill="#fff" stroke="#649d38" stroke-width="1.1"/>
<circle cx="177.6" cy="209.8" r="2.5" fill="#fff" stroke="#f14343" stroke-width="1.1"/>
<circle cx="180.1" cy="207.4" r="2.5" fill="#fff" stroke="#f14343" stroke-width="1.1"/>
<circle cx="182.6" cy="206.8" r="2.5" fill="#fff" stroke="#f14343" stroke-width="1.1"/>
<circle cx="185.1" cy="260.9" r="2.5" fill="#fff" stroke="#649d38" stroke-width="1.1"/>
<circle cx="187.6" cy="261.5" r="2.5" fill="#fff" stroke="#649d38" stroke-width="1.1"/>
<circle cx="190.1" cy="261.9" r="2.5" fill="#fff" stroke="#649d38" stroke-width="1.1"/>
<circle cx="192.6" cy="208.6" r="2.5" fill="#fff" stroke="#f14343" stroke-width="1.1"/>
<circle cx="195.1" cy="208.2" r="2.5" fill="#fff" stroke="#f14343" stroke-width="1.1"/>
<circle cx="197.6" cy="208.8" r="2.5" fill="#fff" stroke="#f14343" stroke-width="1.1"/>
<line x1="98.9" y1="192.2" x2="104" y2="192.2" stroke="#222" stroke-width="1.1"/>
<line x1="112.6" y1="192.2" x2="118.3" y2="192.2" stroke="#222" stroke-width="1.1"/>
<circle cx="108.3" cy="192.2" r="2.5" fill="#fff" stroke="#f14343" stroke-width="1.1"/>
<text x="120.8" y="195.3" font-size="8.5" text-anchor="start" fill="#1e1e1e" >Pulse II</text>
<line x1="98.9" y1="278.5" x2="104" y2="278.5" stroke="#222" stroke-width="1.1"/>
<line x1="112.6" y1="278.5" x2="118.3" y2="278.5" stroke="#222" stroke-width="1.1"/>
<circle cx="108.3" cy="278.5" r="2.5" fill="#fff" stroke="#649d38" stroke-width="1.1"/>
<text x="120.8" y="281.5" font-size="8.5" text-anchor="start" fill="#1e1e1e" >Pulse I</text>
<rect x="42.6" y="178.5" width="160" height="111.8" fill="none" stroke="#2a2a2a" stroke-width="1.2"/>
<line x1="47.6" y1="290.3" x2="47.6" y2="287.3" stroke="#2a2a2a" stroke-width="0.9"/>
<line x1="47.6" y1="178.5" x2="47.6" y2="181.5" stroke="#2a2a2a" stroke-width="0.9"/>
<line x1="72.6" y1="290.3" x2="72.6" y2="287.3" stroke="#2a2a2a" stroke-width="0.9"/>
<line x1="72.6" y1="178.5" x2="72.6" y2="181.5" stroke="#2a2a2a" stroke-width="0.9"/>
<line x1="97.6" y1="290.3" x2="97.6" y2="287.3" stroke="#2a2a2a" stroke-width="0.9"/>
<line x1="97.6" y1="178.5" x2="97.6" y2="181.5" stroke="#2a2a2a" stroke-width="0.9"/>
<line x1="122.6" y1="290.3" x2="122.6" y2="287.3" stroke="#2a2a2a" stroke-width="0.9"/>
<line x1="122.6" y1="178.5" x2="122.6" y2="181.5" stroke="#2a2a2a" stroke-width="0.9"/>
<line x1="147.6" y1="290.3" x2="147.6" y2="287.3" stroke="#2a2a2a" stroke-width="0.9"/>
<line x1="147.6" y1="178.5" x2="147.6" y2="181.5" stroke="#2a2a2a" stroke-width="0.9"/>
<line x1="172.6" y1="290.3" x2="172.6" y2="287.3" stroke="#2a2a2a" stroke-width="0.9"/>
<line x1="172.6" y1="178.5" x2="172.6" y2="181.5" stroke="#2a2a2a" stroke-width="0.9"/>
<line x1="197.6" y1="290.3" x2="197.6" y2="287.3" stroke="#2a2a2a" stroke-width="0.9"/>
<line x1="197.6" y1="178.5" x2="197.6" y2="181.5" stroke="#2a2a2a" stroke-width="0.9"/>
<line x1="60.1" y1="290.3" x2="60.1" y2="288.5" stroke="#2a2a2a" stroke-width="0.9"/>
<line x1="60.1" y1="178.5" x2="60.1" y2="180.3" stroke="#2a2a2a" stroke-width="0.9"/>
<line x1="85.1" y1="290.3" x2="85.1" y2="288.5" stroke="#2a2a2a" stroke-width="0.9"/>
<line x1="85.1" y1="178.5" x2="85.1" y2="180.3" stroke="#2a2a2a" stroke-width="0.9"/>
<line x1="110.1" y1="290.3" x2="110.1" y2="288.5" stroke="#2a2a2a" stroke-width="0.9"/>
<line x1="110.1" y1="178.5" x2="110.1" y2="180.3" stroke="#2a2a2a" stroke-width="0.9"/>
<line x1="135.1" y1="290.3" x2="135.1" y2="288.5" stroke="#2a2a2a" stroke-width="0.9"/>
<line x1="135.1" y1="178.5" x2="135.1" y2="180.3" stroke="#2a2a2a" stroke-width="0.9"/>
<line x1="160.1" y1="290.3" x2="160.1" y2="288.5" stroke="#2a2a2a" stroke-width="0.9"/>
<line x1="160.1" y1="178.5" x2="160.1" y2="180.3" stroke="#2a2a2a" stroke-width="0.9"/>
<line x1="185.1" y1="290.3" x2="185.1" y2="288.5" stroke="#2a2a2a" stroke-width="0.9"/>
<line x1="185.1" y1="178.5" x2="185.1" y2="180.3" stroke="#2a2a2a" stroke-width="0.9"/>
<line x1="42.6" y1="279.12" x2="45.6" y2="279.12" stroke="#2a2a2a" stroke-width="0.9"/>
<line x1="42.6" y1="256.76" x2="45.6" y2="256.76" stroke="#2a2a2a" stroke-width="0.9"/>
<line x1="42.6" y1="234.4" x2="45.6" y2="234.4" stroke="#2a2a2a" stroke-width="0.9"/>
<line x1="42.6" y1="212.04" x2="45.6" y2="212.04" stroke="#2a2a2a" stroke-width="0.9"/>
<line x1="42.6" y1="189.68" x2="45.6" y2="189.68" stroke="#2a2a2a" stroke-width="0.9"/>
<line x1="42.6" y1="267.94" x2="44.4" y2="267.94" stroke="#2a2a2a" stroke-width="0.9"/>
<line x1="42.6" y1="245.58" x2="44.4" y2="245.58" stroke="#2a2a2a" stroke-width="0.9"/>
<line x1="42.6" y1="223.22" x2="44.4" y2="223.22" stroke="#2a2a2a" stroke-width="0.9"/>
<line x1="42.6" y1="200.86" x2="44.4" y2="200.86" stroke="#2a2a2a" stroke-width="0.9"/>
<text x="47.6" y="299.9" font-size="8.3" text-anchor="middle" fill="#1e1e1e" >0</text>
<text x="72.6" y="299.9" font-size="8.3" text-anchor="middle" fill="#1e1e1e" >10</text>
<text x="97.6" y="299.9" font-size="8.3" text-anchor="middle" fill="#1e1e1e" >20</text>
<text x="122.6" y="299.9" font-size="8.3" text-anchor="middle" fill="#1e1e1e" >30</text>
<text x="147.6" y="299.9" font-size="8.3" text-anchor="middle" fill="#1e1e1e" >40</text>
<text x="172.6" y="299.9" font-size="8.3" text-anchor="middle" fill="#1e1e1e" >50</text>
<text x="197.6" y="299.9" font-size="8.3" text-anchor="middle" fill="#1e1e1e" >60</text>
<text x="40.2" y="282.12" font-size="8.3" text-anchor="end" fill="#1e1e1e" >-0.08</text>
<text x="40.2" y="259.76" font-size="8.3" text-anchor="end" fill="#1e1e1e" >-0.04</text>
<text x="40.2" y="237.4" font-size="8.3" text-anchor="end" fill="#1e1e1e" >0.00</text>
<text x="40.2" y="215.04" font-size="8.3" text-anchor="end" fill="#1e1e1e" >0.04</text>
<text x="40.2" y="192.68" font-size="8.3" text-anchor="end" fill="#1e1e1e" >0.08</text>
<text x="122.7" y="313.6" font-size="9.8" text-anchor="middle" fill="#1e1e1e" >Pulse number</text>
<text transform="translate(15.1,234.4) rotate(-90)" font-size="10" text-anchor="middle" fill="#1e1e1e"><tspan font-style="italic">R</tspan><tspan font-size="6.8" font-style="italic" dy="2.4">xy</tspan><tspan dy="-2.4"> (&#937;)</tspan></text>
<rect x="282.7" y="178.43" width="160" height="111.24" fill="url(#ge)"/>
<g clip-path="url(#ce)">
<polyline points="283.5,278.4 290.05,276.6 296.6,278.4 303.15,279.5 309.7,277.2 316.25,279.5 322.8,278.4 329.35,279 335.9,278.4 342.45,276.4 349,215.8 355.55,202.1 362.1,198.4 368.65,191.4 375.2,193.5 381.75,195.1 388.3,191 394.85,191 401.4,193.5 407.95,194 414.5,194.5" fill="none" stroke="#649d38" stroke-width="1.1"/>
<circle cx="283.5" cy="278.4" r="2.5" fill="#fff" stroke="#649d38" stroke-width="1.1"/>
<circle cx="290.05" cy="276.6" r="2.5" fill="#fff" stroke="#649d38" stroke-width="1.1"/>
<circle cx="296.6" cy="278.4" r="2.5" fill="#fff" stroke="#649d38" stroke-width="1.1"/>
<circle cx="303.15" cy="279.5" r="2.5" fill="#fff" stroke="#649d38" stroke-width="1.1"/>
<circle cx="309.7" cy="277.2" r="2.5" fill="#fff" stroke="#649d38" stroke-width="1.1"/>
<circle cx="316.25" cy="279.5" r="2.5" fill="#fff" stroke="#649d38" stroke-width="1.1"/>
<circle cx="322.8" cy="278.4" r="2.5" fill="#fff" stroke="#649d38" stroke-width="1.1"/>
<circle cx="329.35" cy="279" r="2.5" fill="#fff" stroke="#649d38" stroke-width="1.1"/>
<circle cx="335.9" cy="278.4" r="2.5" fill="#fff" stroke="#649d38" stroke-width="1.1"/>
<circle cx="342.45" cy="276.4" r="2.5" fill="#fff" stroke="#649d38" stroke-width="1.1"/>
<circle cx="349" cy="215.8" r="2.5" fill="#fff" stroke="#649d38" stroke-width="1.1"/>
<circle cx="355.55" cy="202.1" r="2.5" fill="#fff" stroke="#649d38" stroke-width="1.1"/>
<circle cx="362.1" cy="198.4" r="2.5" fill="#fff" stroke="#649d38" stroke-width="1.1"/>
<circle cx="368.65" cy="191.4" r="2.5" fill="#fff" stroke="#649d38" stroke-width="1.1"/>
<circle cx="375.2" cy="193.5" r="2.5" fill="#fff" stroke="#649d38" stroke-width="1.1"/>
<circle cx="381.75" cy="195.1" r="2.5" fill="#fff" stroke="#649d38" stroke-width="1.1"/>
<circle cx="388.3" cy="191" r="2.5" fill="#fff" stroke="#649d38" stroke-width="1.1"/>
<circle cx="394.85" cy="191" r="2.5" fill="#fff" stroke="#649d38" stroke-width="1.1"/>
<circle cx="401.4" cy="193.5" r="2.5" fill="#fff" stroke="#649d38" stroke-width="1.1"/>
<circle cx="407.95" cy="194" r="2.5" fill="#fff" stroke="#649d38" stroke-width="1.1"/>
<circle cx="414.5" cy="194.5" r="2.5" fill="#fff" stroke="#649d38" stroke-width="1.1"/>
<polyline points="283.5,279 290.05,279 296.6,278.4 303.15,277 309.7,275.4 316.25,278.4 322.8,276 329.35,267.3 335.9,211.9 342.45,200.8 349,194 355.55,191.4 362.1,194.3 368.65,193.8 375.2,194.6 381.75,193 388.3,193.2 394.85,194.6 401.4,193.5 407.95,192 414.5,193.5 421.05,192 427.6,193.2" fill="none" stroke="#f14343" stroke-width="1.1"/>
<circle cx="283.5" cy="279" r="2.5" fill="#fff" stroke="#f14343" stroke-width="1.1"/>
<circle cx="290.05" cy="279" r="2.5" fill="#fff" stroke="#f14343" stroke-width="1.1"/>
<circle cx="296.6" cy="278.4" r="2.5" fill="#fff" stroke="#f14343" stroke-width="1.1"/>
<circle cx="303.15" cy="277" r="2.5" fill="#fff" stroke="#f14343" stroke-width="1.1"/>
<circle cx="309.7" cy="275.4" r="2.5" fill="#fff" stroke="#f14343" stroke-width="1.1"/>
<circle cx="316.25" cy="278.4" r="2.5" fill="#fff" stroke="#f14343" stroke-width="1.1"/>
<circle cx="322.8" cy="276" r="2.5" fill="#fff" stroke="#f14343" stroke-width="1.1"/>
<circle cx="329.35" cy="267.3" r="2.5" fill="#fff" stroke="#f14343" stroke-width="1.1"/>
<circle cx="335.9" cy="211.9" r="2.5" fill="#fff" stroke="#f14343" stroke-width="1.1"/>
<circle cx="342.45" cy="200.8" r="2.5" fill="#fff" stroke="#f14343" stroke-width="1.1"/>
<circle cx="349" cy="194" r="2.5" fill="#fff" stroke="#f14343" stroke-width="1.1"/>
<circle cx="355.55" cy="191.4" r="2.5" fill="#fff" stroke="#f14343" stroke-width="1.1"/>
<circle cx="362.1" cy="194.3" r="2.5" fill="#fff" stroke="#f14343" stroke-width="1.1"/>
<circle cx="368.65" cy="193.8" r="2.5" fill="#fff" stroke="#f14343" stroke-width="1.1"/>
<circle cx="375.2" cy="194.6" r="2.5" fill="#fff" stroke="#f14343" stroke-width="1.1"/>
<circle cx="381.75" cy="193" r="2.5" fill="#fff" stroke="#f14343" stroke-width="1.1"/>
<circle cx="388.3" cy="193.2" r="2.5" fill="#fff" stroke="#f14343" stroke-width="1.1"/>
<circle cx="394.85" cy="194.6" r="2.5" fill="#fff" stroke="#f14343" stroke-width="1.1"/>
<circle cx="401.4" cy="193.5" r="2.5" fill="#fff" stroke="#f14343" stroke-width="1.1"/>
<circle cx="407.95" cy="192" r="2.5" fill="#fff" stroke="#f14343" stroke-width="1.1"/>
<circle cx="414.5" cy="193.5" r="2.5" fill="#fff" stroke="#f14343" stroke-width="1.1"/>
<circle cx="421.05" cy="192" r="2.5" fill="#fff" stroke="#f14343" stroke-width="1.1"/>
<circle cx="427.6" cy="193.2" r="2.5" fill="#fff" stroke="#f14343" stroke-width="1.1"/>
</g>
<line x1="351.2" y1="250" x2="357.6" y2="250" stroke="#649d38" stroke-width="1.1"/>
<line x1="364.4" y1="250" x2="369.7" y2="250" stroke="#649d38" stroke-width="1.1"/>
<circle cx="361" cy="250" r="2.5" fill="#fff" stroke="#649d38" stroke-width="1.1"/>
<text x="372" y="253.1" font-size="8" text-anchor="start" fill="#1e1e1e" >SIO/LSMO</text>
<line x1="351.2" y1="260.1" x2="357.6" y2="260.1" stroke="#f14343" stroke-width="1.1"/>
<line x1="364.4" y1="260.1" x2="369.7" y2="260.1" stroke="#f14343" stroke-width="1.1"/>
<circle cx="361" cy="260.1" r="2.5" fill="#fff" stroke="#f14343" stroke-width="1.1"/>
<text x="372" y="263.2" font-size="8" text-anchor="start" fill="#1e1e1e" >SIO/NiO (2)/LSMO</text>
<rect x="282.7" y="178.43" width="160" height="111.24" fill="none" stroke="#2a2a2a" stroke-width="1.2"/>
<line x1="282.7" y1="289.67" x2="282.7" y2="286.67" stroke="#2a2a2a" stroke-width="0.9"/>
<line x1="282.7" y1="178.43" x2="282.7" y2="181.43" stroke="#2a2a2a" stroke-width="0.9"/>
<line x1="322.7" y1="289.67" x2="322.7" y2="286.67" stroke="#2a2a2a" stroke-width="0.9"/>
<line x1="322.7" y1="178.43" x2="322.7" y2="181.43" stroke="#2a2a2a" stroke-width="0.9"/>
<line x1="362.7" y1="289.67" x2="362.7" y2="286.67" stroke="#2a2a2a" stroke-width="0.9"/>
<line x1="362.7" y1="178.43" x2="362.7" y2="181.43" stroke="#2a2a2a" stroke-width="0.9"/>
<line x1="402.7" y1="289.67" x2="402.7" y2="286.67" stroke="#2a2a2a" stroke-width="0.9"/>
<line x1="402.7" y1="178.43" x2="402.7" y2="181.43" stroke="#2a2a2a" stroke-width="0.9"/>
<line x1="442.7" y1="289.67" x2="442.7" y2="286.67" stroke="#2a2a2a" stroke-width="0.9"/>
<line x1="442.7" y1="178.43" x2="442.7" y2="181.43" stroke="#2a2a2a" stroke-width="0.9"/>
<line x1="302.7" y1="289.67" x2="302.7" y2="287.87" stroke="#2a2a2a" stroke-width="0.9"/>
<line x1="302.7" y1="178.43" x2="302.7" y2="180.23" stroke="#2a2a2a" stroke-width="0.9"/>
<line x1="342.7" y1="289.67" x2="342.7" y2="287.87" stroke="#2a2a2a" stroke-width="0.9"/>
<line x1="342.7" y1="178.43" x2="342.7" y2="180.23" stroke="#2a2a2a" stroke-width="0.9"/>
<line x1="382.7" y1="289.67" x2="382.7" y2="287.87" stroke="#2a2a2a" stroke-width="0.9"/>
<line x1="382.7" y1="178.43" x2="382.7" y2="180.23" stroke="#2a2a2a" stroke-width="0.9"/>
<line x1="422.7" y1="289.67" x2="422.7" y2="287.87" stroke="#2a2a2a" stroke-width="0.9"/>
<line x1="422.7" y1="178.43" x2="422.7" y2="180.23" stroke="#2a2a2a" stroke-width="0.9"/>
<line x1="282.7" y1="280.4" x2="285.7" y2="280.4" stroke="#2a2a2a" stroke-width="0.9"/>
<line x1="282.7" y1="261.86" x2="285.7" y2="261.86" stroke="#2a2a2a" stroke-width="0.9"/>
<line x1="282.7" y1="243.32" x2="285.7" y2="243.32" stroke="#2a2a2a" stroke-width="0.9"/>
<line x1="282.7" y1="224.78" x2="285.7" y2="224.78" stroke="#2a2a2a" stroke-width="0.9"/>
<line x1="282.7" y1="206.24" x2="285.7" y2="206.24" stroke="#2a2a2a" stroke-width="0.9"/>
<line x1="282.7" y1="187.7" x2="285.7" y2="187.7" stroke="#2a2a2a" stroke-width="0.9"/>
<line x1="282.7" y1="289.67" x2="284.5" y2="289.67" stroke="#2a2a2a" stroke-width="0.9"/>
<line x1="282.7" y1="271.13" x2="284.5" y2="271.13" stroke="#2a2a2a" stroke-width="0.9"/>
<line x1="282.7" y1="252.59" x2="284.5" y2="252.59" stroke="#2a2a2a" stroke-width="0.9"/>
<line x1="282.7" y1="234.05" x2="284.5" y2="234.05" stroke="#2a2a2a" stroke-width="0.9"/>
<line x1="282.7" y1="215.51" x2="284.5" y2="215.51" stroke="#2a2a2a" stroke-width="0.9"/>
<line x1="282.7" y1="196.97" x2="284.5" y2="196.97" stroke="#2a2a2a" stroke-width="0.9"/>
<line x1="282.7" y1="178.43" x2="284.5" y2="178.43" stroke="#2a2a2a" stroke-width="0.9"/>
<text x="282.7" y="299.7" font-size="8" text-anchor="middle" fill="#1e1e1e" >5</text>
<text x="322.7" y="299.7" font-size="8" text-anchor="middle" fill="#1e1e1e" >10</text>
<text x="362.7" y="299.7" font-size="8" text-anchor="middle" fill="#1e1e1e" >15</text>
<text x="402.7" y="299.7" font-size="8" text-anchor="middle" fill="#1e1e1e" >20</text>
<text x="442.7" y="299.7" font-size="8" text-anchor="middle" fill="#1e1e1e" >25</text>
<text x="280.1" y="283.3" font-size="8" text-anchor="end" fill="#1e1e1e" >0</text>
<text x="280.1" y="264.76" font-size="8" text-anchor="end" fill="#1e1e1e" >20</text>
<text x="280.1" y="246.22" font-size="8" text-anchor="end" fill="#1e1e1e" >40</text>
<text x="280.1" y="227.68" font-size="8" text-anchor="end" fill="#1e1e1e" >60</text>
<text x="280.1" y="209.14" font-size="8" text-anchor="end" fill="#1e1e1e" >80</text>
<text x="280.1" y="190.6" font-size="8" text-anchor="end" fill="#1e1e1e" >100</text>
<text x="362.8" y="315.6" font-size="9.5" text-anchor="middle" fill="#1e1e1e"><tspan font-style="italic">J</tspan><tspan font-size="6.5" dy="2.3">SIO</tspan><tspan dy="-2.3"> (10</tspan><tspan font-size="6.5" dy="-3.5">6</tspan><tspan dy="3.5"> A/cm</tspan><tspan font-size="6.5" dy="-3.5">2</tspan><tspan dy="3.5">)</tspan></text>
<text transform="translate(258.9,232.4) rotate(-90)" font-size="9.15" text-anchor="middle" fill="#1e1e1e">Switching ratio (%)</text>
<polyline points="533.1,246.7 535.5,253.1 538.2,254.5 541.4,251.3 543.8,244.3 549.3,232.3 554.2,222.4 559.5,212.8 580.7,201.9 607.6,200.1 634.5,186.7" fill="none" stroke="#f14343" stroke-width="1.1"/>
<circle cx="527.9" cy="240.3" r="2.5" fill="#fff" stroke="#f14343" stroke-width="1.1"/>
<circle cx="533.1" cy="246.7" r="2.5" fill="#fff" stroke="#f14343" stroke-width="1.1"/>
<circle cx="535.5" cy="253.1" r="2.5" fill="#fff" stroke="#f14343" stroke-width="1.1"/>
<circle cx="538.2" cy="254.5" r="2.5" fill="#fff" stroke="#f14343" stroke-width="1.1"/>
<circle cx="541.4" cy="251.3" r="2.5" fill="#fff" stroke="#f14343" stroke-width="1.1"/>
<circle cx="543.8" cy="244.3" r="2.5" fill="#fff" stroke="#f14343" stroke-width="1.1"/>
<circle cx="549.3" cy="232.3" r="2.5" fill="#fff" stroke="#f14343" stroke-width="1.1"/>
<circle cx="554.2" cy="222.4" r="2.5" fill="#fff" stroke="#f14343" stroke-width="1.1"/>
<circle cx="559.5" cy="212.8" r="2.5" fill="#fff" stroke="#f14343" stroke-width="1.1"/>
<circle cx="580.7" cy="201.9" r="2.5" fill="#fff" stroke="#f14343" stroke-width="1.1"/>
<circle cx="607.6" cy="200.1" r="2.5" fill="#fff" stroke="#f14343" stroke-width="1.1"/>
<circle cx="634.5" cy="186.7" r="2.5" fill="#fff" stroke="#f14343" stroke-width="1.1"/>
<line x1="566.1" y1="251.8" x2="573.2" y2="251.8" stroke="#f14343" stroke-width="1.1"/>
<line x1="580.4" y1="251.8" x2="586.7" y2="251.8" stroke="#f14343" stroke-width="1.1"/>
<circle cx="576.8" cy="251.8" r="2.5" fill="#fff" stroke="#f14343" stroke-width="1.1"/>
<text x="588.9" y="254.9" font-size="8.5" text-anchor="start" fill="#1e1e1e" >SIO/NiO(t)/LSMO</text>
<rect x="517.4" y="178.4" width="159" height="111.8" fill="none" stroke="#2a2a2a" stroke-width="1.2"/>
<line x1="528" y1="290.2" x2="528" y2="287.2" stroke="#2a2a2a" stroke-width="0.9"/>
<line x1="528" y1="178.4" x2="528" y2="181.4" stroke="#2a2a2a" stroke-width="0.9"/>
<line x1="554.5" y1="290.2" x2="554.5" y2="287.2" stroke="#2a2a2a" stroke-width="0.9"/>
<line x1="554.5" y1="178.4" x2="554.5" y2="181.4" stroke="#2a2a2a" stroke-width="0.9"/>
<line x1="581" y1="290.2" x2="581" y2="287.2" stroke="#2a2a2a" stroke-width="0.9"/>
<line x1="581" y1="178.4" x2="581" y2="181.4" stroke="#2a2a2a" stroke-width="0.9"/>
<line x1="607.5" y1="290.2" x2="607.5" y2="287.2" stroke="#2a2a2a" stroke-width="0.9"/>
<line x1="607.5" y1="178.4" x2="607.5" y2="181.4" stroke="#2a2a2a" stroke-width="0.9"/>
<line x1="634" y1="290.2" x2="634" y2="287.2" stroke="#2a2a2a" stroke-width="0.9"/>
<line x1="634" y1="178.4" x2="634" y2="181.4" stroke="#2a2a2a" stroke-width="0.9"/>
<line x1="660.5" y1="290.2" x2="660.5" y2="287.2" stroke="#2a2a2a" stroke-width="0.9"/>
<line x1="660.5" y1="178.4" x2="660.5" y2="181.4" stroke="#2a2a2a" stroke-width="0.9"/>
<line x1="541.25" y1="290.2" x2="541.25" y2="288.4" stroke="#2a2a2a" stroke-width="0.9"/>
<line x1="541.25" y1="178.4" x2="541.25" y2="180.2" stroke="#2a2a2a" stroke-width="0.9"/>
<line x1="567.75" y1="290.2" x2="567.75" y2="288.4" stroke="#2a2a2a" stroke-width="0.9"/>
<line x1="567.75" y1="178.4" x2="567.75" y2="180.2" stroke="#2a2a2a" stroke-width="0.9"/>
<line x1="594.25" y1="290.2" x2="594.25" y2="288.4" stroke="#2a2a2a" stroke-width="0.9"/>
<line x1="594.25" y1="178.4" x2="594.25" y2="180.2" stroke="#2a2a2a" stroke-width="0.9"/>
<line x1="620.75" y1="290.2" x2="620.75" y2="288.4" stroke="#2a2a2a" stroke-width="0.9"/>
<line x1="620.75" y1="178.4" x2="620.75" y2="180.2" stroke="#2a2a2a" stroke-width="0.9"/>
<line x1="647.25" y1="290.2" x2="647.25" y2="288.4" stroke="#2a2a2a" stroke-width="0.9"/>
<line x1="647.25" y1="178.4" x2="647.25" y2="180.2" stroke="#2a2a2a" stroke-width="0.9"/>
<line x1="673.75" y1="290.2" x2="673.75" y2="288.4" stroke="#2a2a2a" stroke-width="0.9"/>
<line x1="673.75" y1="178.4" x2="673.75" y2="180.2" stroke="#2a2a2a" stroke-width="0.9"/>
<line x1="517.4" y1="290.2" x2="520.4" y2="290.2" stroke="#2a2a2a" stroke-width="0.9"/>
<line x1="517.4" y1="262.25" x2="520.4" y2="262.25" stroke="#2a2a2a" stroke-width="0.9"/>
<line x1="517.4" y1="234.3" x2="520.4" y2="234.3" stroke="#2a2a2a" stroke-width="0.9"/>
<line x1="517.4" y1="206.35" x2="520.4" y2="206.35" stroke="#2a2a2a" stroke-width="0.9"/>
<line x1="517.4" y1="178.4" x2="520.4" y2="178.4" stroke="#2a2a2a" stroke-width="0.9"/>
<line x1="517.4" y1="276.22" x2="519.2" y2="276.22" stroke="#2a2a2a" stroke-width="0.9"/>
<line x1="517.4" y1="248.27" x2="519.2" y2="248.27" stroke="#2a2a2a" stroke-width="0.9"/>
<line x1="517.4" y1="220.32" x2="519.2" y2="220.32" stroke="#2a2a2a" stroke-width="0.9"/>
<line x1="517.4" y1="192.38" x2="519.2" y2="192.38" stroke="#2a2a2a" stroke-width="0.9"/>
<text x="528" y="299.6" font-size="8.5" text-anchor="middle" fill="#1e1e1e" >0</text>
<text x="554.5" y="299.6" font-size="8.5" text-anchor="middle" fill="#1e1e1e" >5</text>
<text x="581" y="299.6" font-size="8.5" text-anchor="middle" fill="#1e1e1e" >10</text>
<text x="607.5" y="299.6" font-size="8.5" text-anchor="middle" fill="#1e1e1e" >15</text>
<text x="634" y="299.6" font-size="8.5" text-anchor="middle" fill="#1e1e1e" >20</text>
<text x="660.5" y="299.6" font-size="8.5" text-anchor="middle" fill="#1e1e1e" >25</text>
<text x="514.9" y="293.2" font-size="8.5" text-anchor="end" fill="#1e1e1e" >5</text>
<text x="514.9" y="265.25" font-size="8.5" text-anchor="end" fill="#1e1e1e" >10</text>
<text x="514.9" y="237.3" font-size="8.5" text-anchor="end" fill="#1e1e1e" >15</text>
<text x="514.9" y="209.35" font-size="8.5" text-anchor="end" fill="#1e1e1e" >20</text>
<text x="514.9" y="181.4" font-size="8.5" text-anchor="end" fill="#1e1e1e" >25</text>
<text x="596.8" y="314.4" font-size="9.5" text-anchor="middle" fill="#1e1e1e"><tspan font-style="italic">t</tspan><tspan font-size="6.5" dy="2.3">NiO</tspan><tspan dy="-2.3"> (nm)</tspan></text>
<text transform="translate(500.5,233.4) rotate(-90)" font-size="9.7" text-anchor="middle" fill="#1e1e1e"><tspan font-style="italic">J</tspan><tspan font-size="6.5" dy="2.3">th</tspan><tspan dy="-2.3"> (10</tspan><tspan font-size="6.5" dy="-3.5">6</tspan><tspan dy="3.5"> A/cm</tspan><tspan font-size="6.5" dy="-3.5">2</tspan><tspan dy="3.5">)</tspan></text>
</svg></body></html>
